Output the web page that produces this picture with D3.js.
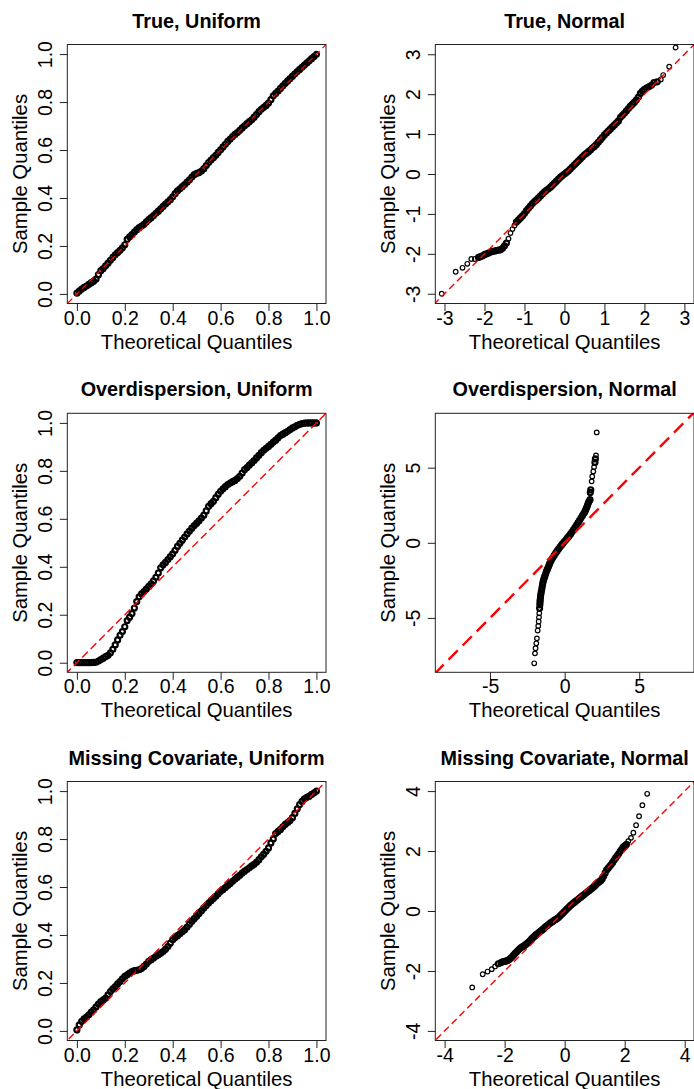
<!DOCTYPE html>
<html>
<head>
<meta charset="utf-8">
<script src="https://cdn.jsdelivr.net/npm/d3@7"></script>
<style>
  body { margin: 0; background: #fff; }
  text { font-family: "Liberation Sans", Arial, Helvetica, sans-serif; fill: #000; }
</style>
</head>
<body>
<div id="chart"></div>
<script>
// panel titles, left to right, top to bottom
var titles = ["True, Uniform", "True, Normal", "Overdispersion, Uniform",
  "Overdispersion, Normal", "Missing Covariate, Uniform", "Missing Covariate, Normal"];

// theoretical quantiles shared by the three uniform panels
var uniformTheo = [0,0.01,0.02,0.03,0.04,0.05,0.06,0.07,0.08,0.09,
  0.1,0.11,0.12,0.13,0.14,0.15,0.16,0.17,0.18,0.19,
  0.2,0.21,0.22,0.23,0.24,0.25,0.26,0.27,0.28,0.29,
  0.3,0.31,0.32,0.33,0.34,0.35,0.36,0.37,0.38,0.39,
  0.4,0.41,0.42,0.43,0.44,0.45,0.46,0.47,0.48,0.49,
  0.5,0.51,0.52,0.53,0.54,0.55,0.56,0.57,0.58,0.59,
  0.6,0.61,0.62,0.63,0.64,0.65,0.66,0.67,0.68,0.69,
  0.7,0.71,0.72,0.73,0.74,0.75,0.76,0.77,0.78,0.79,
  0.8,0.81,0.82,0.83,0.84,0.85,0.86,0.87,0.88,0.89,
  0.9,0.91,0.92,0.93,0.94,0.95,0.96,0.97,0.98,0.99,
  1];

var trueUnifY = [0.003,0.012,0.02,0.027,0.033,0.04,0.047,0.053,0.062,0.08,
  0.097,0.106,0.117,0.128,0.14,0.152,0.163,0.172,0.182,0.192,
  0.205,0.228,0.238,0.247,0.258,0.268,0.276,0.283,0.29,0.3,
  0.31,0.318,0.327,0.336,0.345,0.355,0.365,0.375,0.384,0.393,
  0.405,0.418,0.43,0.438,0.447,0.456,0.466,0.476,0.487,0.497,
  0.503,0.506,0.512,0.522,0.535,0.548,0.558,0.568,0.578,0.59,
  0.601,0.613,0.624,0.636,0.646,0.656,0.665,0.673,0.682,0.692,
  0.701,0.71,0.718,0.726,0.737,0.748,0.76,0.77,0.778,0.786,
  0.796,0.81,0.826,0.836,0.846,0.857,0.868,0.878,0.888,0.898,
  0.908,0.918,0.927,0.936,0.945,0.954,0.963,0.972,0.981,0.99,
  0.999];

var odUnifY = [0,0,0,0,0,0,0,0.001,0.002,0.007,
  0.013,0.019,0.025,0.031,0.041,0.056,0.074,0.095,0.114,0.13,
  0.15,0.176,0.19,0.205,0.228,0.255,0.275,0.287,0.297,0.307,
  0.318,0.329,0.341,0.356,0.374,0.396,0.408,0.418,0.43,0.442,
  0.454,0.469,0.485,0.498,0.511,0.524,0.537,0.549,0.561,0.572,
  0.582,0.592,0.603,0.615,0.633,0.652,0.663,0.673,0.688,0.702,
  0.715,0.725,0.734,0.743,0.749,0.755,0.76,0.768,0.777,0.791,
  0.805,0.814,0.824,0.833,0.843,0.854,0.865,0.876,0.886,0.894,
  0.902,0.911,0.92,0.928,0.938,0.947,0.953,0.959,0.965,0.972,
  0.979,0.984,0.99,0.994,0.997,0.999,1,1,1,1,
  1];

var mcUnifY = [0.004,0.025,0.04,0.05,0.058,0.067,0.078,0.088,0.1,0.112,
  0.122,0.129,0.137,0.15,0.164,0.175,0.185,0.196,0.206,0.217,
  0.227,0.234,0.241,0.247,0.251,0.253,0.255,0.26,0.269,0.279,
  0.29,0.297,0.304,0.311,0.318,0.324,0.331,0.341,0.352,0.366,
  0.38,0.389,0.397,0.405,0.413,0.422,0.433,0.445,0.457,0.468,
  0.478,0.49,0.501,0.513,0.523,0.533,0.543,0.552,0.561,0.572,
  0.582,0.59,0.598,0.606,0.615,0.624,0.632,0.641,0.649,0.658,
  0.666,0.673,0.68,0.688,0.695,0.703,0.714,0.726,0.737,0.749,
  0.763,0.784,0.8,0.823,0.832,0.84,0.851,0.861,0.869,0.877,
  0.889,0.907,0.926,0.944,0.957,0.968,0.974,0.979,0.986,0.993,
  1];

// theoretical normal quantiles of the dense middle part
var normBand = [-2,-1.95,-1.9,-1.85,-1.8,-1.75,-1.7,-1.65,-1.6,-1.55,
  -1.5,-1.45,-1.4,-1.35,-1.3,-1.25,-1.2,-1.15,-1.1,-1.05,
  -1,-0.95,-0.9,-0.85,-0.8,-0.75,-0.7,-0.65,-0.6,-0.55,
  -0.5,-0.45,-0.4,-0.35,-0.3,-0.25,-0.2,-0.15,-0.1,-0.05,
  0,0.05,0.1,0.15,0.2,0.25,0.3,0.35,0.4,0.45,
  0.5,0.55,0.6,0.65,0.7,0.75,0.8,0.85,0.9,0.95,
  1,1.05,1.1,1.15,1.2,1.25,1.3,1.35,1.4,1.45,
  1.5,1.55,1.6,1.65,1.7,1.75,1.8,1.85,1.9,1.95,
  2];

var trueNormX = [-3.07,-2.72,-2.55,-2.43,-2.33,-2.24,-2.15,-2.1,-2.05]
  .concat(normBand, [2.06,2.12,2.18,2.24,2.32,2.41,2.47,2.62,2.78]);
var trueNormY = [-3.0,-2.45,-2.35,-2.25,-2.13,-2.13,-2.09,-2.07,-2.05,
  -2.02,-2,-1.98,-1.96,-1.94,-1.93,-1.92,-1.91,-1.9,-1.86,
  -1.8,-1.73,-1.62,-1.48,-1.38,-1.29,-1.2,-1.15,-1.1,-1.05,
  -0.99,-0.92,-0.86,-0.8,-0.74,-0.69,-0.65,-0.6,-0.55,-0.5,
  -0.45,-0.41,-0.37,-0.33,-0.28,-0.23,-0.18,-0.13,-0.08,-0.04,
  0,0.04,0.08,0.13,0.18,0.23,0.28,0.33,0.38,0.43,
  0.48,0.52,0.56,0.6,0.65,0.69,0.74,0.8,0.86,0.92,
  0.98,1.03,1.08,1.13,1.18,1.23,1.28,1.33,1.42,1.47,
  1.52,1.58,1.64,1.7,1.75,1.8,1.86,1.93,2.02,2.08,
  2.12,2.16,2.19,2.23,2.29,2.31,2.37,2.48,2.69,3.17];

var odNormX = [-2.04,-1.99,-1.95,-1.9,-1.86,-1.81,-1.77,-1.74,-1.72,-1.7,
  -1.68,-1.66,-1.65,-1.64,-1.62,-1.6,-1.57,-1.54,-1.51,-1.48,
  -1.45,-1.41,-1.36,-1.32,-1.27,-1.22,-1.16,-1.1,-1.04,-0.99,
  -0.9,-0.8,-0.7,-0.6,-0.5,-0.4,-0.3,-0.2,-0.1,0,
  0.1,0.2,0.3,0.4,0.5,0.6,0.7,0.8,0.9,1,
  1.1,1.2,1.3,1.36,1.42,1.48,1.53,1.58,1.63,1.7,
  1.72,1.75,1.81,1.85,1.92,1.97,2.03,2.06,2.1,2.15];
var odNormY = [-8.02,-7.36,-7.02,-6.69,-6.36,-5.84,-5.53,-5.24,-4.96,-4.69,
  -4.36,-4.13,-3.95,-3.8,-3.62,-3.45,-3.28,-3.13,-2.95,-2.78,
  -2.62,-2.46,-2.32,-2.2,-2.05,-1.9,-1.77,-1.63,-1.48,-1.35,
  -1.17,-1,-0.84,-0.68,-0.54,-0.4,-0.27,-0.14,-0.02,0.1,
  0.22,0.34,0.46,0.59,0.73,0.88,1.03,1.18,1.34,1.5,
  1.66,1.82,1.98,2.09,2.22,2.36,2.5,2.63,2.75,2.87,
  3.35,3.53,4.09,4.42,4.75,5.04,5.35,5.58,5.82,7.35];

var mcNormX = [-3.08,-2.73,-2.57,-2.43,-2.32,-2.21,-2.12,-2.05]
  .concat(normBand, [2.06,2.12,2.21,2.29,2.38,2.48,2.59,2.75]);
var mcNormY = [-2.55,-2.11,-2.02,-1.94,-1.85,-1.76,-1.72,-1.69,
  -1.68,-1.67,-1.65,-1.62,-1.58,-1.53,-1.47,-1.41,-1.36,-1.31,
  -1.26,-1.22,-1.19,-1.16,-1.12,-1.08,-1.04,-0.99,-0.93,-0.88,
  -0.84,-0.79,-0.75,-0.71,-0.67,-0.63,-0.59,-0.54,-0.5,-0.46,
  -0.42,-0.38,-0.35,-0.31,-0.28,-0.25,-0.21,-0.16,-0.11,-0.06,
  -0.01,0.04,0.09,0.14,0.19,0.23,0.27,0.31,0.35,0.39,
  0.43,0.47,0.51,0.55,0.59,0.63,0.67,0.71,0.75,0.79,
  0.83,0.88,0.93,0.97,1.01,1.07,1.16,1.27,1.37,1.43,
  1.49,1.55,1.62,1.7,1.77,1.84,1.91,1.99,2.06,2.13,
  2.17,
  2.22,2.33,2.44,2.61,2.86,3.16,3.53,3.91];

// tick labels
var unifTicks = [0, 0.2, 0.4, 0.6, 0.8, 1];
var trueNormTicks = [-3, -2, -1, 0, 1, 2, 3];
var odNormTicks = [-5, 0, 5];
var mcNormTicks = [-4, -2, 0, 2, 4];

var width = 694, height = 1089;
var boxW = 258.7, boxH = 259;
var colLeft = [67.3, 435.3];
var rowTop = [44.5, 413.3, 781.5];

var svg = d3.select("#chart")
  .append("svg")
  .attr("width", width)
  .attr("height", height)
  .style("background-color", "white");

var panels = [
  { x: uniformTheo, y: trueUnifY, xd: [-0.04, 1.04], yd: [-0.04, 1.04], ticks: unifTicks, fmt: d3.format(".1f"), lw: 1.1, dash: "6,4", gap: 12 },
  { x: trueNormX, y: trueNormY, xd: [-3.23, 3.24], yd: [-3.245, 3.245], ticks: trueNormTicks, fmt: String, lw: 1.4, dash: "7,4", gap: 3.5 },
  { x: uniformTheo, y: odUnifY, xd: [-0.04, 1.04], yd: [-0.04, 1.04], ticks: unifTicks, fmt: d3.format(".1f"), lw: 1.4, dash: "8,4", gap: 12 },
  { x: odNormX, y: odNormY, xd: [-8.67, 8.67], yd: [-8.62, 8.62], ticks: odNormTicks, fmt: String, lw: 2.4, dash: "13,7", gap: 3.5 },
  { x: uniformTheo, y: mcUnifY, xd: [-0.04, 1.04], yd: [-0.04, 1.04], ticks: unifTicks, fmt: d3.format(".1f"), lw: 1.4, dash: "7,4", gap: 12 },
  { x: mcNormX, y: mcNormY, xd: [-4.31, 4.31], yd: [-4.32, 4.32], ticks: mcNormTicks, fmt: String, lw: 1.4, dash: "7,4", gap: 3.5 }
];

panels.forEach(function(p, i) {
  var left = colLeft[i % 2];
  var top = rowTop[Math.floor(i / 2)];

  var g = svg.append("g")
    .attr("transform", "translate(" + left + "," + top + ")");

  var x = d3.scaleLinear().domain(p.xd).range([0, boxW]);
  var y = d3.scaleLinear().domain(p.yd).range([boxH, 0]);

  g.append("clipPath")
    .attr("id", "clip" + i)
    .append("rect")
    .attr("width", boxW)
    .attr("height", boxH);

  var pts = p.x.map(function(v, k) { return { x: v, y: p.y[k] }; });

  // points packed closely overlap into a solid band, as in the original
  pts.forEach(function(d, k) {
    var near = Infinity;
    [k - 1, k + 1].forEach(function(j) {
      if (j >= 0 && j < pts.length) {
        var dx = x(pts[j].x) - x(d.x), dy = y(pts[j].y) - y(d.y);
        near = Math.min(near, Math.sqrt(dx * dx + dy * dy));
      }
    });
    d.dense = near < p.gap;
  });

  var plot = g.append("g").attr("clip-path", "url(#clip" + i + ")");

  plot.selectAll("circle")
    .data(pts)
    .enter()
    .append("circle")
    .attr("cx", d => x(d.x))
    .attr("cy", d => y(d.y))
    .attr("r", d => d.dense ? 2.5 : 2.3)
    .attr("fill", "none")
    .attr("stroke", "black")
    .attr("stroke-width", d => d.dense ? 2.2 : 1.2);

  // y = x reference line
  var lo = Math.min(p.xd[0], p.yd[0]) - 1;
  var hi = Math.max(p.xd[1], p.yd[1]) + 1;
  plot.append("line")
    .attr("x1", x(lo)).attr("y1", y(lo))
    .attr("x2", x(hi)).attr("y2", y(hi))
    .attr("stroke", "red")
    .attr("stroke-width", p.lw)
    .attr("stroke-dasharray", p.dash);

  g.append("rect")
    .attr("width", boxW)
    .attr("height", boxH)
    .attr("fill", "none")
    .attr("stroke", "#222")
    .attr("stroke-width", 1);

  var xAxisCall = d3.axisBottom(x).tickValues(p.ticks).tickSize(7.5).tickFormat(p.fmt);
  var xa = g.append("g")
    .attr("class", "x axis")
    .attr("transform", "translate(0," + boxH + ")")
    .call(xAxisCall);
  xa.select(".domain").remove();
  xa.selectAll("text")
    .attr("y", 21)
    .attr("dy", null)
    .attr("font-size", "19.5px")
    .attr("fill", "black");

  var yAxisCall = d3.axisLeft(y).tickValues(p.ticks).tickSize(7.5).tickFormat(p.fmt);
  var ya = g.append("g")
    .attr("class", "y axis")
    .call(yAxisCall);
  ya.select(".domain").remove();
  ya.selectAll("text")
    .attr("transform", "rotate(-90)")
    .attr("x", 0)
    .attr("y", -15.5)
    .attr("dy", null)
    .attr("text-anchor", "middle")
    .attr("font-size", "19.5px")
    .attr("fill", "black");

  g.selectAll(".tick line").attr("stroke", "#222");

  g.append("text")
    .attr("x", boxW / 2)
    .attr("y", -17)
    .attr("text-anchor", "middle")
    .attr("font-size", "19.8px")
    .attr("font-weight", "bold")
    .text(titles[i]);

  g.append("text")
    .attr("x", boxW / 2)
    .attr("y", boxH + 45)
    .attr("text-anchor", "middle")
    .attr("font-size", "20.3px")
    .text("Theoretical Quantiles");

  g.append("text")
    .attr("transform", "rotate(-90)")
    .attr("x", -boxH / 2)
    .attr("y", -40)
    .attr("text-anchor", "middle")
    .attr("font-size", "20.3px")
    .text("Sample Quantiles");
});
</script>
</body>
</html>
